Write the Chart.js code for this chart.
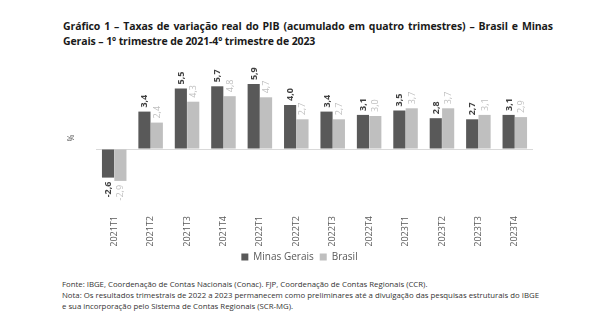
<!DOCTYPE html>
<html>
<head>
<meta charset="utf-8">
<script src="https://cdn.jsdelivr.net/npm/chart.js@4.4.1/dist/chart.umd.min.js"></script>
<style>
  html, body { margin: 0; padding: 0; background: #fff; }
  body { width: 606px; height: 327px; position: relative; overflow: hidden; font-family: "Open Sans", "Noto Sans", sans-serif; }
  #title { position: absolute; left: 63px; top: 19px; width: 490px; font-size: 10.5px; font-weight: bold; color: #1a1a1a; line-height: 15px; text-align: justify; text-align-last: left; letter-spacing: -0.1px; }
  #chartBox { position: absolute; left: 0; top: 0; width: 606px; height: 272px; }
  #notes { position: absolute; left: 62px; top: 279px; font-size: 7.8px; color: #333; line-height: 11px; white-space: nowrap; }
</style>
</head>
<body>
<div id="title">Gráfico 1 – Taxas de variação real do PIB (acumulado em quatro trimestres) – Brasil e Minas Gerais – 1º trimestre de 2021-4º trimestre de 2023</div>
<div id="chartBox"><canvas id="pib"></canvas></div>
<div id="notes">
  Fonte: IBGE, Coordenação de Contas Nacionais (Conac). FJP, Coordenação de Contas Regionais (CCR).<br>
  Nota: Os resultados trimestrais de 2022 a 2023 permanecem como preliminares até a divulgação das pesquisas estruturais do IBGE<br>
  e sua incorporação pelo Sistema de Contas Regionais (SCR-MG).
</div>
<script>
// quarters and accumulated 4-quarter GDP growth (%)
const trimestres = ["2021T1", "2021T2", "2021T3", "2021T4", "2022T1", "2022T2", "2022T3", "2022T4", "2023T1", "2023T2", "2023T3", "2023T4"];
const minasGerais = [-2.6, 3.4, 5.5, 5.7, 5.9, 4.0, 3.4, 3.1, 3.5, 2.8, 2.7, 3.1];
const brasil = [-2.9, 2.4, 4.3, 4.8, 4.7, 2.7, 2.7, 3.0, 3.7, 3.7, 3.1, 2.9];

const corMG = "#595959";
const corBR = "#bfbfbf";

// vertical value labels above (or below) each bar, comma as decimal mark
const rotatedLabels = {
  id: "rotatedLabels",
  afterDatasetsDraw(chart) {
    const ctx = chart.ctx;
    chart.data.datasets.forEach((ds, i) => {
      const meta = chart.getDatasetMeta(i);
      meta.data.forEach((bar, j) => {
        const v = ds.data[j];
        const txt = v.toFixed(1).replace(".", ",");
        ctx.save();
        ctx.translate(bar.x + 3, bar.y + (v >= 0 ? -4 : 4));
        ctx.rotate(-Math.PI / 2);
        ctx.font = (i === 0 ? "bold " : "") + "9px 'Open Sans', sans-serif";
        ctx.fillStyle = i === 0 ? "#404040" : "#bfbfbf";
        ctx.textAlign = v >= 0 ? "left" : "right";
        ctx.textBaseline = "alphabetic";
        ctx.fillText(txt, 0, 0);
        ctx.restore();
      });
    });
  }
};

new Chart(document.getElementById("pib"), {
  type: "bar",
  data: {
    labels: trimestres,
    datasets: [
      { label: "Minas Gerais", data: minasGerais, backgroundColor: corMG },
      { label: "Brasil", data: brasil, backgroundColor: corBR }
    ]
  },
  options: {
    responsive: true,
    maintainAspectRatio: false,
    animation: false,
    layout: { padding: { left: 66, right: 73, top: 72, bottom: 0 } },
    datasets: { bar: { categoryPercentage: 0.68, barPercentage: 0.98 } },
    plugins: {
      legend: {
        position: "bottom",
        labels: {
          boxWidth: 7, boxHeight: 7, padding: 6,
          color: "#595959",
          font: { family: "'Open Sans', sans-serif", size: 10 }
        }
      },
      tooltip: { enabled: false }
    },
    scales: {
      x: {
        // fixed height so the legend sits right under the rotated labels
        afterFit(axis) { axis.height = 42; },
        grid: { display: false },
        border: { display: false },
        ticks: {
          minRotation: 90, maxRotation: 90,
          color: "#595959",
          padding: 4,
          font: { family: "'Open Sans', sans-serif", size: 9 }
        }
      },
      y: {
        min: -5, max: 7,
        afterFit(axis) { axis.width = 30; },
        ticks: { display: false, stepSize: 1 },
        border: { display: false },
        grid: {
          drawTicks: false,
          color: c => c.tick.value === 0 ? "#d9d9d9" : "rgba(0,0,0,0)",
          lineWidth: 1
        },
        title: { display: true, text: "%", color: "#595959", font: { family: "'Open Sans', sans-serif", size: 8.5 }, padding: 0 }
      }
    }
  },
  plugins: [rotatedLabels]
});
</script>
</body>
</html>
